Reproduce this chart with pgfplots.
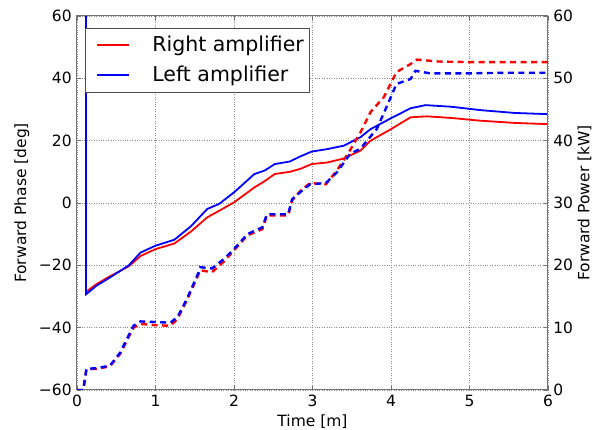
\documentclass[border=0pt]{standalone}
\usepackage{fontspec}
\setmainfont{DejaVu Sans}
\usepackage{pgfplots}
\pgfplotsset{compat=1.18}
\begin{document}
\fontsize{15.5}{18}\selectfont
\begin{tikzpicture}
\useasboundingbox (-77pt,-40pt) rectangle (521pt,390pt);
\begin{axis}[
  at={(0pt,0pt)}, anchor=south west,
  scale only axis, width=471pt, height=374pt,
  xmin=0, xmax=6, ymin=-60, ymax=60,
  xtick={0,1,2,3,4,5,6},
  ytick={-60,-40,-20,0,20,40,60},
  yticklabels={−60,−40,−20,0,20,40,60},
  ytick pos=left,
  xtick pos=both,
  tick align=inside,
  major tick length=4pt,
  axis line style={black!55, line width=1pt},
  every tick/.style={black!55, line width=0.8pt},
  grid=major,
  grid style={black!45, dotted, line width=0.7pt},
  /pgf/number format/assume math mode=true,
  tick label style={font=\fontsize{15.5}{18}\selectfont},
  label style={font=\fontsize{15.5}{18}\selectfont},
  xlabel={Time [m]},
  ylabel={Forward Phase [deg]},
  xlabel style={yshift=3pt},
  ylabel style={yshift=-1pt},
  legend style={at={(0.017,0.968)}, anchor=north west,
    font=\fontsize{20.5}{24}\selectfont, draw=black!70, line width=0.8pt,
    inner xsep=4pt, inner ysep=6pt, row sep=8pt,
    nodes={inner xsep=2pt, inner ysep=2pt}},
  legend cell align=left,
  legend image code/.code={\path[draw=none] (0pt,0pt) -- (61pt,0pt); \draw[#1, line width=1.8pt] (8pt,0pt) -- (40pt,0pt);},
]
\addplot[red, line width=1.8pt] coordinates {
(0.115,-28.5) (0.25,-26) (0.42,-23.5) (0.55,-21.8) (0.66,-20.3) (0.81,-17) (1.0,-14.8) (1.24,-13) (1.45,-9.2) (1.66,-4.6) (1.81,-2.5) (2.0,0.2) (2.26,5) (2.39,7.0) (2.52,9.3) (2.71,10) (2.85,11) (2.99,12.5) (3.19,13.0) (3.40,14.3) (3.61,16.8) (3.74,20) (4.0,23.7) (4.25,27.5) (4.46,27.8) (4.76,27.3) (5.14,26.4) (5.57,25.7) (6,25.3)
};
\addlegendentry{Right amplifier}
\addplot[blue, line width=1.8pt] coordinates {
(0.115,60) (0.115,-29.3) (0.25,-26.5) (0.42,-23.9) (0.55,-21.8) (0.66,-20) (0.81,-15.9) (1.0,-13.7) (1.24,-11.8) (1.45,-7.5) (1.66,-1.9) (1.81,-0.3) (2.0,3.4) (2.26,9.3) (2.39,10.4) (2.52,12.5) (2.71,13.3) (2.85,15) (2.99,16.5) (3.19,17.3) (3.40,18.4) (3.61,21.1) (3.74,23.7) (4.0,27.2) (4.25,30.4) (4.44,31.4) (4.76,30.9) (5.14,29.8) (5.57,28.9) (6,28.5)
};
\addlegendentry{Left amplifier}
\end{axis}
\begin{axis}[
  at={(0pt,0pt)}, anchor=south west,
  scale only axis, width=471pt, height=374pt,
  xmin=0, xmax=6, ymin=0, ymax=60,
  axis x line=none,
  axis y line*=right,
  ytick={0,10,20,30,40,50,60},
  tick align=inside,
  major tick length=4pt,
  axis line style={black!55, line width=1pt, -},
  every tick/.style={black!55, line width=0.8pt},
  /pgf/number format/assume math mode=true,
  tick label style={font=\fontsize{15.5}{18}\selectfont},
  label style={font=\fontsize{15.5}{18}\selectfont},
  ylabel={Forward Power [kW]},
  ylabel style={yshift=6pt},
]
\addplot[red, line width=2.4pt, dash pattern=on 6pt off 4.5pt] coordinates {
(0,0) (0.08,0) (0.12,3.3) (0.25,3.4) (0.42,3.8) (0.55,5.8) (0.72,10.0) (0.81,10.6) (1.0,10.4) (1.19,10.3) (1.28,11.4) (1.40,14.4) (1.55,18.6) (1.57,19.2) (1.72,18.9) (1.87,20.6) (2.0,22.4) (2.17,24.8) (2.36,25.8) (2.42,28.0) (2.69,28.0) (2.74,30.4) (2.85,32) (2.97,33.2) (3.17,33.0) (3.31,35.2) (3.48,38.5) (3.61,41.3) (3.74,44.6) (3.91,47) (4.07,51) (4.25,52.3) (4.33,53.0) (4.6,52.7) (5,52.6) (5.5,52.6) (6,52.6)
};
\addplot[blue, line width=2.4pt, dash pattern=on 6pt off 4.5pt] coordinates {
(0,0) (0.08,0) (0.12,3.4) (0.25,3.5) (0.42,3.9) (0.55,6.0) (0.72,10.3) (0.81,11) (1.0,10.9) (1.19,10.8) (1.28,11.7) (1.40,14.6) (1.55,18.9) (1.57,19.7) (1.72,19.5) (1.87,21) (2.0,22.6) (2.17,25) (2.36,26.1) (2.42,28.2) (2.69,28.2) (2.74,30.6) (2.85,31.8) (2.97,33) (3.17,33.2) (3.31,34.9) (3.48,37.9) (3.61,38.7) (3.82,41.9) (3.95,45.6) (4.07,49.1) (4.25,49.9) (4.31,51.2) (4.5,50.8) (5,50.8) (5.5,50.9) (6,50.9)
};
\end{axis}
\end{tikzpicture}
\end{document}
